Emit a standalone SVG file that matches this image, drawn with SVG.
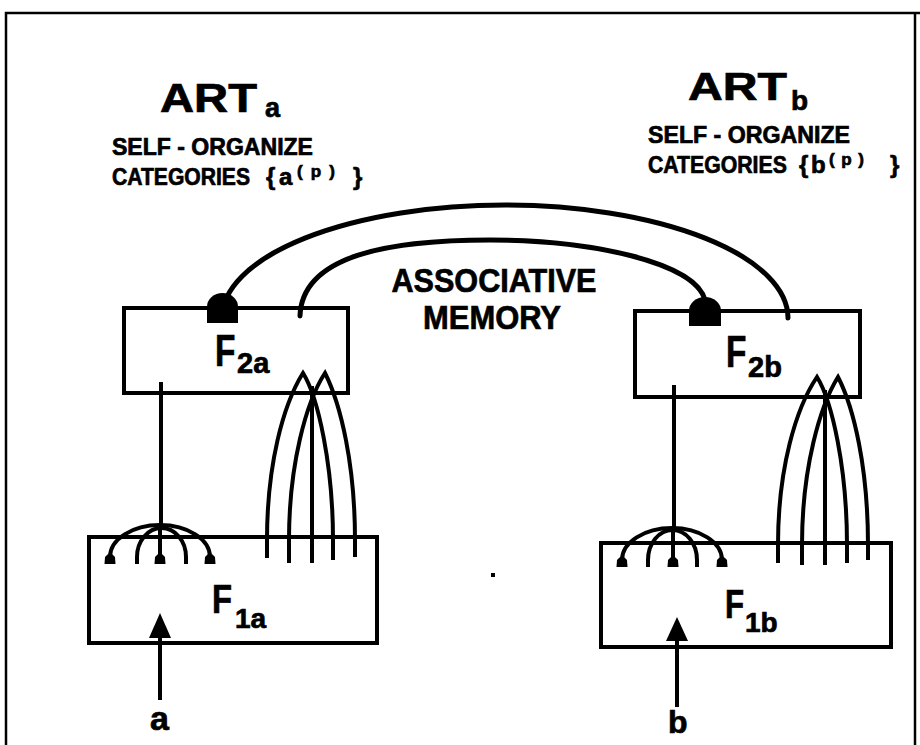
<svg xmlns="http://www.w3.org/2000/svg" width="920" height="745" viewBox="0 0 920 745">
<style>
  text { font-family: "Liberation Sans", Arial, sans-serif; font-weight: bold; fill: #000; stroke: #000; stroke-width: 0.7; }
  .box { fill: #fff; stroke: #000; stroke-width: 4; }
  .ln { fill: none; stroke: #000; stroke-width: 4; stroke-linecap: butt; stroke-linejoin: miter; }
  .arc { fill: none; stroke: #000; stroke-width: 5; stroke-linecap: round; }
  .knob { fill: #000; }
</style>
<defs>
  <path id="blob" d="M-5.5,9 L-5,2 Q0,-5 5,2 L5.5,9 Z" fill="#000"/>
</defs>
<rect width="920" height="745" fill="#fff"/>
<path d="M6,745 V13 H920 M915,13 V745" stroke="#000" stroke-width="2.5" fill="none"/>

<g id="artA">
  <text x="160" y="112" font-size="40" textLength="97" lengthAdjust="spacingAndGlyphs">ART</text>
  <text x="265" y="117" font-size="27">a</text>
  <text x="112" y="155" font-size="23" textLength="201" lengthAdjust="spacingAndGlyphs">SELF - ORGANIZE</text>
  <text transform="translate(112,185) scale(0.88,1)" font-size="24">CATEGORIES</text>
  <text x="266" y="185" font-size="24">{</text>
  <text x="279" y="185" font-size="24">a</text>
  <text x="297" y="177" font-size="17" textLength="38" lengthAdjust="spacing">(p)</text>
  <text x="353" y="185" font-size="24">}</text>
</g>

<g id="artB">
  <text x="688" y="100" font-size="38" textLength="99" lengthAdjust="spacingAndGlyphs">ART</text>
  <text x="791" y="110" font-size="28">b</text>
  <text x="648" y="143" font-size="23" textLength="202" lengthAdjust="spacingAndGlyphs">SELF - ORGANIZE</text>
  <text transform="translate(648,173) scale(0.885,1)" font-size="24">CATEGORIES</text>
  <text x="799" y="173" font-size="24">{</text>
  <text x="811" y="173" font-size="24">b</text>
  <text x="829" y="165" font-size="17" textLength="35" lengthAdjust="spacing">(p)</text>
  <text x="890" y="173" font-size="24">}</text>
</g>

<g id="assoc">
  <text x="494" y="292" font-size="33" text-anchor="middle" textLength="205" lengthAdjust="spacingAndGlyphs">ASSOCIATIVE</text>
  <text x="492" y="329" font-size="33" text-anchor="middle" textLength="138" lengthAdjust="spacingAndGlyphs">MEMORY</text>
</g>

<g id="F1a">
  <rect class="box" x="89" y="537" width="288" height="106"/>
  <text transform="translate(212,613) scale(0.82,1)" font-size="40">F</text>
  <text x="235" y="628" font-size="28">1a</text>
</g>

<g id="F1b">
  <rect class="box" x="601" y="543" width="290" height="104"/>
  <text transform="translate(725,618) scale(0.78,1)" font-size="40">F</text>
  <text x="745" y="632" font-size="28">1b</text>
</g>

<g id="F2a">
  <rect class="box" x="124" y="308" width="224" height="85"/>
  <text transform="translate(215,366) scale(0.76,1)" font-size="44">F</text>
  <text x="237" y="373" font-size="29">2a</text>
</g>

<g id="F2b">
  <rect class="box" x="635" y="311" width="225" height="86"/>
  <text transform="translate(726,367) scale(0.76,1)" font-size="44">F</text>
  <text x="748" y="377" font-size="29">2b</text>
</g>

<g id="inputA">
  <text x="150" y="730" font-size="34">a</text>
</g>
<g id="inputB">
  <text x="668" y="733" font-size="32">b</text>
</g>

<g id="connectors">
  <path class="arc" d="M222,318 A283,113 0 0 1 788,318"/>
  <path class="arc" d="M300,316 C302,255 390,240 490,240 C590,240 695,262 705,300"/>
  <path class="knob" d="M207,323 V307 A15.5,14 0 0 1 238,307 V323 Z"/>
  <path class="knob" d="M689,326 V311 A16,14 0 0 1 721,311 V326 Z"/>

  <path class="ln" d="M161,382 V525"/>
  <path class="ln" d="M110,557 A50,32 0 0 1 210,557"/>
  <path class="ln" d="M137,564 V557 A24.5,29 0 0 1 186,557 V564"/>
  <path class="ln" d="M160,525 V558"/>
  <use href="#blob" x="110" y="555"/>
  <use href="#blob" x="160" y="555"/>
  <use href="#blob" x="210" y="555"/>

  <path class="ln" d="M267,558 V540 C267,465 283,405 303,373 C318,397 333,465 333,540 V560"/>
  <path class="ln" d="M289,563 V540 C289,465 306,402 325,373 C341,405 355,465 355,540 V557"/>
  <path class="ln" d="M312,563 V386"/>

  <path class="ln" d="M674,385 V528"/>
  <path class="ln" d="M622,560 A50,32 0 0 1 722,560"/>
  <path class="ln" d="M648,567 V560 A24.5,30 0 0 1 697,560 V567"/>
  <path class="ln" d="M673,528 V560"/>
  <use href="#blob" x="622" y="558"/>
  <use href="#blob" x="673" y="558"/>
  <use href="#blob" x="722" y="558"/>

  <path class="ln" d="M778,563 V545 C778,468 796,408 817,377 C832,401 847,468 847,545 V563"/>
  <path class="ln" d="M802,565 V545 C802,468 820,406 838,377 C854,408 868,468 868,545 V560"/>
  <path class="ln" d="M825,565 V390"/>

  <path class="ln" d="M160,700 V634"/>
  <polygon points="160,613 149,638 171,638" fill="#000"/>
  <path class="ln" d="M677,707 V637"/>
  <polygon points="677,617 666,641 688,641" fill="#000"/>
</g>

<rect x="491" y="573" width="4" height="4" fill="#000"/>
</svg>
